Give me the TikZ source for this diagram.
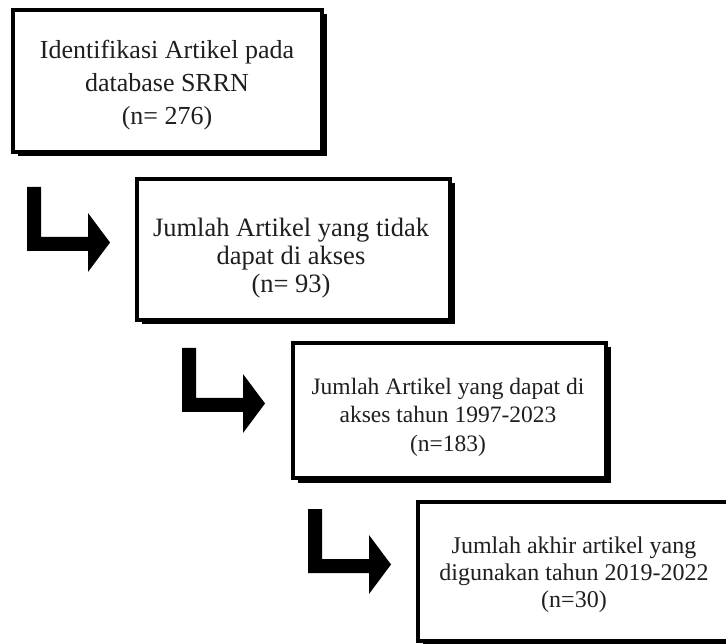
\documentclass[tikz,border=0pt]{standalone}
\usepackage{fontspec}
\setmainfont{Liberation Serif}
\usetikzlibrary{shadows}
\begin{document}
\begin{tikzpicture}[x=1pt,y=-1pt,
  flowbox/.style={draw=black, line width=4pt, fill=white, rectangle, inner sep=0pt,
    drop shadow={shadow xshift=4.5pt, shadow yshift=-4.5pt, opacity=1, fill=black}},
  boxtext/.style={align=center, text=black!88, inner sep=0pt},
  bentarrow/.pic={\fill[black] (0,0) -- (14,0) -- (14,50) -- (61,50) -- (61,26) -- (83,55.5) -- (61,85) -- (61,64) -- (0,64) -- cycle;}]
\useasboundingbox (0,0) rectangle (726,644);
\clip (0,0) rectangle (726,644);
\fill[white] (0,0) rectangle (726,644);

\node[flowbox, minimum width=309pt, minimum height=142pt] (b1) at (167.5,81) {};
\node[flowbox, minimum width=313pt, minimum height=141pt] (b2) at (293.5,249.5) {};
\node[flowbox, minimum width=313pt, minimum height=135pt] (b3) at (449.5,410.5) {};
\node[flowbox, minimum width=313pt, minimum height=139pt] (b4) at (574.5,571.5) {};

\node[boxtext, font=\fontsize{26}{33}\selectfont] (t1) at (167,85) {Identifikasi Artikel pada\\database SRRN\\(n= 276)};
\node[boxtext, font=\fontsize{26.5}{28}\selectfont] (t2) at (291,258) {Jumlah Artikel yang tidak\\dapat di akses\\(n= 93)};
\node[boxtext, font=\fontsize{23.5}{28.5}\selectfont] (t3) at (448,417) {Jumlah Artikel yang dapat di\\akses tahun 1997-2023\\(n=183)};
\node[boxtext, font=\fontsize{24}{27}\selectfont] (t4) at (574,575) {Jumlah akhir artikel yang\\digunakan tahun 2019-2022\\(n=30)};

\pic at (27,187) {bentarrow};
\pic at (182,348) {bentarrow};
\pic at (308,509) {bentarrow};
\end{tikzpicture}
\end{document}
